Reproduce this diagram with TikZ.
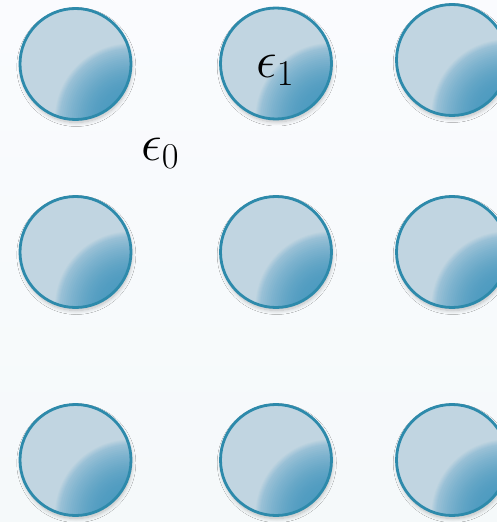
\RequirePackage{fix-cm}
\documentclass[tikz,border=0pt]{standalone}
\usetikzlibrary{shadows.blur}
\definecolor{bgtop}{HTML}{FAFBFE}
\definecolor{bgbot}{HTML}{F5F9FA}
\definecolor{bord}{HTML}{2D8AAB}
\definecolor{lt}{HTML}{C1D5E1}
\definecolor{sb}{HTML}{98C0D6}
\definecolor{dk}{HTML}{4E9BC0}
\tikzset{
  bubble/.style={circle, minimum size=111pt, inner sep=0pt, draw=bord, line width=2.8pt, fill=lt,
    blur shadow={shadow xshift=0.8pt, shadow yshift=-3pt, shadow blur radius=4pt, shadow blur steps=12, shadow opacity=25},
    path picture={
      \coordinate (se) at (path picture bounding box.south east);
      \foreach \r in {77,76,...,72} {\pgfmathsetmacro\pc{(\r-71)/6*100}\fill[lt!\pc!sb] (se) circle (\r pt);}
      \foreach \r in {71,69,...,23} {\pgfmathsetmacro\pc{100*((\r-23)/48)^1.8}\fill[sb!\pc!dk] (se) circle (\r pt);}
    }},
  lbl/.style={anchor=base west, inner sep=0pt, font=\fontsize{52}{56}\selectfont}
}
\begin{document}
\begin{tikzpicture}[x=1pt,y=-1pt]
\shade[top color=bgtop, bottom color=bgbot] (0,0) rectangle (497,522);
\useasboundingbox (0,0) rectangle (497,522);
\node[bubble] (c11) at (75.5,64) {};
\node[bubble] (c12) at (276,63.5) {};
\node[bubble] (c13) at (452,60) {};
\node[bubble] (c21) at (75.5,252) {};
\node[bubble] (c22) at (276,252) {};
\node[bubble] (c23) at (452,252) {};
\node[bubble] (c31) at (75.5,460) {};
\node[bubble] (c32) at (276,460) {};
\node[bubble] (c33) at (452,460) {};
\node[lbl] (e0) at (141,160.5) {$\epsilon_0$};
\node[lbl] (e1) at (256,77.5) {$\epsilon_1$};
\end{tikzpicture}
\end{document}
